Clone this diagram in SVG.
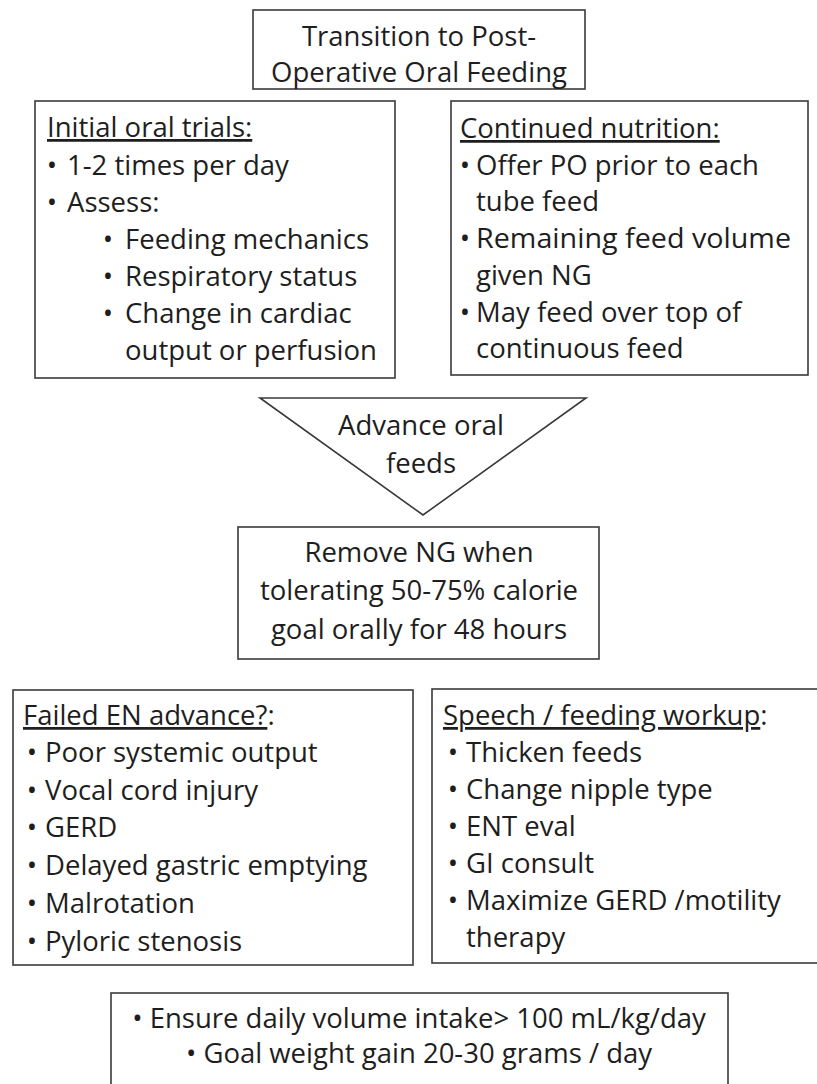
<svg xmlns="http://www.w3.org/2000/svg" width="817" height="1084" viewBox="0 0 817 1084">
  <style>
    .box { fill: #ffffff; stroke: #3a3a3a; stroke-width: 1.6; }
    text { font-family: "Open Sans", "Noto Sans", "Liberation Sans", sans-serif; font-size: 27.5px; fill: #1e1e1e; }
    .c { text-anchor: middle; }
    .b { text-anchor: middle; }
    .u { text-decoration: underline; }
  </style>
  <rect width="817" height="1084" fill="#ffffff"/>

  <g id="title">
    <rect class="box" x="253" y="10" width="332" height="79"/>
    <text class="c" x="419" y="46">Transition to Post-</text>
    <text class="c" x="419" y="82">Operative Oral Feeding</text>
  </g>

  <g id="initial-trials">
    <rect class="box" x="35" y="101" width="360" height="277"/>
    <text x="47" y="137"><tspan class="u">Initial oral trials:</tspan></text>
    <text class="b" x="52" y="175">•</text><text x="67" y="175">1-2 times per day</text>
    <text class="b" x="52" y="212">•</text><text x="67" y="212">Assess:</text>
    <text class="b" x="108" y="249">•</text><text x="125" y="249">Feeding mechanics</text>
    <text class="b" x="108" y="286">•</text><text x="125" y="286">Respiratory status</text>
    <text class="b" x="108" y="323">•</text><text x="125" y="323">Change in cardiac</text>
    <text x="125" y="360">output or perfusion</text>
  </g>

  <g id="continued-nutrition">
    <rect class="box" x="451" y="101" width="357" height="274"/>
    <text x="460" y="138"><tspan class="u">Continued nutrition:</tspan></text>
    <text class="b" x="465" y="175">•</text><text x="476" y="175">Offer PO prior to each</text>
    <text x="476" y="211">tube feed</text>
    <text class="b" x="465" y="248">•</text><text x="476" y="248" textLength="315" lengthAdjust="spacingAndGlyphs">Remaining feed volume</text>
    <text x="476" y="285">given NG</text>
    <text class="b" x="465" y="322">•</text><text x="476" y="322">May feed over top of</text>
    <text x="476" y="358">continuous feed</text>
  </g>

  <g id="advance-feeds">
    <polygon class="box" points="260,398 586,398 423,515"/>
    <text class="c" x="421" y="435">Advance oral</text>
    <text class="c" x="421" y="473">feeds</text>
  </g>

  <g id="remove-ng">
    <rect class="box" x="238" y="527" width="361" height="132"/>
    <text class="c" x="419" y="562">Remove NG when</text>
    <text class="c" x="419" y="600">tolerating 50-75% calorie</text>
    <text class="c" x="419" y="639">goal orally for 48 hours</text>
  </g>

  <g id="failed-en">
    <rect class="box" x="13" y="690" width="400" height="275"/>
    <text x="23" y="725"><tspan class="u">Failed EN advance?</tspan>:</text>
    <text class="b" x="32" y="762">•</text><text x="45" y="762">Poor systemic output</text>
    <text class="b" x="32" y="800">•</text><text x="45" y="800">Vocal cord injury</text>
    <text class="b" x="32" y="837">•</text><text x="45" y="837">GERD</text>
    <text class="b" x="32" y="875">•</text><text x="45" y="875">Delayed gastric emptying</text>
    <text class="b" x="32" y="913">•</text><text x="45" y="913">Malrotation</text>
    <text class="b" x="32" y="951">•</text><text x="45" y="951">Pyloric stenosis</text>
  </g>

  <g id="feeding-workup">
    <rect class="box" x="432" y="689" width="392" height="274"/>
    <text x="443" y="725"><tspan class="u">Speech / feeding workup</tspan>:</text>
    <text class="b" x="453" y="762">•</text><text x="466" y="762">Thicken feeds</text>
    <text class="b" x="453" y="799">•</text><text x="466" y="799">Change nipple type</text>
    <text class="b" x="453" y="836">•</text><text x="466" y="836">ENT eval</text>
    <text class="b" x="453" y="873">•</text><text x="466" y="873">GI consult</text>
    <text class="b" x="453" y="910">•</text><text x="466" y="910">Maximize GERD /motility</text>
    <text x="466" y="947">therapy</text>
  </g>

  <g id="intake-goals">
    <rect class="box" x="111" y="993" width="617" height="100"/>
    <text class="c" x="419" y="1028">• Ensure daily volume intake&gt; 100 mL/kg/day</text>
    <text class="c" x="419" y="1063">• Goal weight gain 20-30 grams / day</text>
  </g>

  <g id="connectors"/>
</svg>
